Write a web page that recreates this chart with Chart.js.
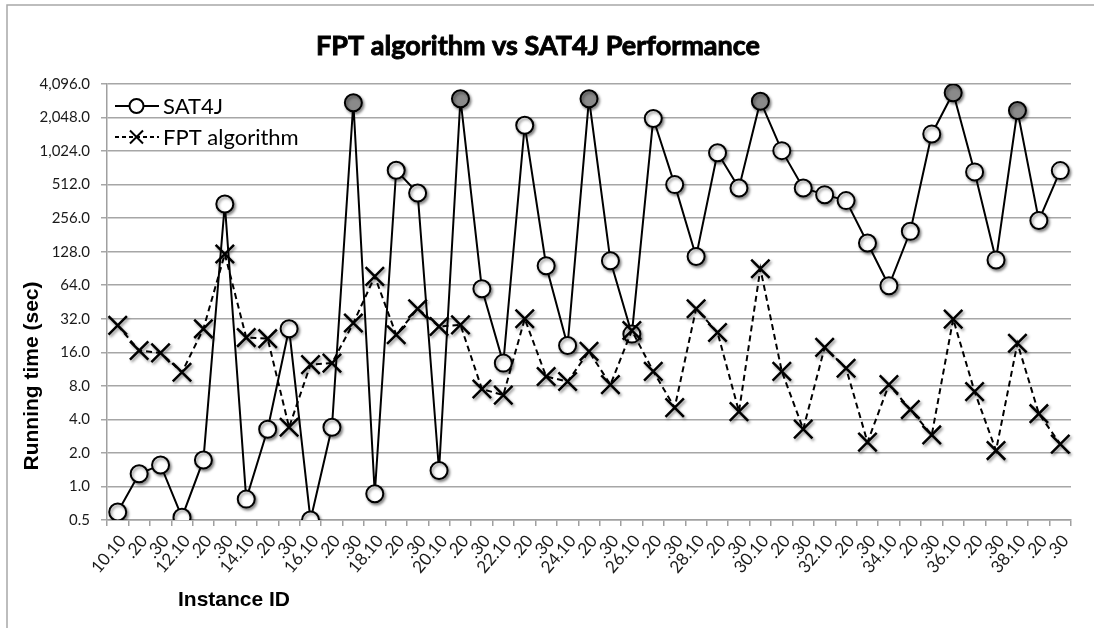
<!DOCTYPE html>
<html>
<head>
<meta charset="utf-8">
<script src="https://cdn.jsdelivr.net/npm/chart.js@4.4.0/dist/chart.umd.min.js"></script>
<style>
  html, body { margin: 0; padding: 0; background: #fff; }
  #wrap { width: 1094px; height: 628px; position: relative; }
</style>
</head>
<body>
<div id="wrap"><canvas id="chart" width="1094" height="628"></canvas></div>
<script>
const instanceIds = [
    "10.10", ".20", ".30", "12.10", ".20", ".30", "14.10", ".20", ".30",
    "16.10", ".20", ".30", "18.10", ".20", ".30", "20.10", ".20", ".30",
    "22.10", ".20", ".30", "24.10", ".20", ".30", "26.10", ".20", ".30",
    "28.10", ".20", ".30", "30.10", ".20", ".30", "32.10", ".20", ".30",
    "34.10", ".20", ".30", "36.10", ".20", ".30", "38.10", ".20", ".30"
]

const sat4jTimes = [
    0.59, 1.3, 1.56, 0.53, 1.73, 343, 0.77, 3.26, 26, 0.5, 3.4, 2780,
    0.86, 689, 431, 1.39, 3016, 59.5, 12.8, 1747, 95.7, 18.4, 3016, 106,
    23.3, 2005, 512, 116, 988, 478, 2870, 1033, 478, 416, 368, 153,
    63.3, 195, 1460, 3415, 666, 108, 2368, 244, 684
]

const fptTimes = [
    27.9, 16.6, 15.8, 10.6, 26, 122, 21.7, 21.2, 3.4, 12.4, 12.8, 29.3,
    76.8, 23, 39.4, 27.3, 28.2, 7.5, 6.6, 32, 9.7, 8.75, 16.3, 8.2,
    25.1, 10.8, 5.1, 39.4, 24.1, 4.7, 90, 10.8, 3.27, 17.7, 11.5, 2.5,
    8.2, 4.9, 2.9, 31.8, 7.1, 2.1, 19.3, 4.5, 2.4
]

// instances that hit the time limit (drawn grey)
const timedOut = [11, 16, 22, 30, 39, 42]

const yTicks = [0.5, 1, 2, 4, 8, 16, 32, 64, 128, 256, 512, 1024, 2048, 4096]

const tickFont = "Lato"
const satFill = sat4jTimes.map((v, i) => timedOut.includes(i) ? "#8a8a8a" : "#ffffff")

const markerShadow = {
    id: "markerShadow",
    beforeDatasetDraw(chart, args) {
        if (!chart.data.datasets[args.index].shadow) return
        const ctx = chart.ctx
        ctx.save()
        ctx.shadowColor = "rgba(0,0,0,0.45)"
        ctx.shadowBlur = 3
        ctx.shadowOffsetX = 1.5
        ctx.shadowOffsetY = 2
    },
    afterDatasetDraw(chart, args) {
        if (!chart.data.datasets[args.index].shadow) return
        chart.ctx.restore()
    }
}

const decorations = {
    id: "decorations",
    afterDraw(chart) {
        const ctx = chart.ctx
        ctx.save()

        // outer frame (cut off at right and bottom)
        ctx.strokeStyle = "#a8a8a8"
        ctx.lineWidth = 1.5
        ctx.beginPath()
        ctx.moveTo(7, 640)
        ctx.lineTo(7, 5)
        ctx.lineTo(1100, 5)
        ctx.stroke()

        // title (stroked a little to get closer to the heavy original)
        ctx.fillStyle = "#000"
        ctx.strokeStyle = "#000"
        ctx.lineWidth = 0.9
        ctx.textAlign = "center"
        ctx.textBaseline = "alphabetic"
        ctx.font = "bold 27px Lato"
        ctx.fillText("FPT algorithm vs SAT4J Performance", 538, 55)
        ctx.strokeText("FPT algorithm vs SAT4J Performance", 538, 55)

        // axis titles
        ctx.font = "bold 21px 'Liberation Sans'"
        ctx.fillText("Instance ID", 234, 606)
        ctx.save()
        ctx.translate(38, 376)
        ctx.rotate(-Math.PI / 2)
        ctx.fillText("Running time (sec)", 0, 0)
        ctx.restore()

        // legend
        ctx.strokeStyle = "#000"
        ctx.lineWidth = 2
        ctx.beginPath()
        ctx.moveTo(115, 106)
        ctx.lineTo(159, 106)
        ctx.stroke()
        ctx.fillStyle = "#fff"
        ctx.beginPath()
        ctx.arc(136.5, 106, 7, 0, Math.PI * 2)
        ctx.fill()
        ctx.stroke()

        ctx.setLineDash([4, 3])
        ctx.beginPath()
        ctx.moveTo(115, 137)
        ctx.lineTo(159, 137)
        ctx.stroke()
        ctx.setLineDash([])
        ctx.beginPath()
        ctx.moveTo(130, 130.5)
        ctx.lineTo(143, 143.5)
        ctx.moveTo(143, 130.5)
        ctx.lineTo(130, 143.5)
        ctx.stroke()

        ctx.fillStyle = "#000"
        ctx.textAlign = "left"
        ctx.textBaseline = "middle"
        ctx.font = "22px Lato"
        ctx.fillText("SAT4J", 163, 107)
        ctx.fillText("FPT algorithm", 163, 138)

        ctx.restore()
    }
}

new Chart(document.getElementById("chart"), {
    type: "line",
    data: {
        labels: instanceIds,
        datasets: [
            {
                label: "SAT4J",
                data: sat4jTimes,
                borderColor: "#000",
                borderWidth: 2,
                pointRadius: 0,
                tension: 0,
                order: 3
            },
            {
                label: "SAT4J markers",
                data: sat4jTimes,
                showLine: false,
                shadow: true,
                pointStyle: "circle",
                pointRadius: 8.5,
                pointBorderWidth: 2,
                pointBorderColor: "#000",
                pointBackgroundColor: satFill,
                order: 2
            },
            {
                label: "FPT algorithm",
                data: fptTimes,
                borderColor: "#000",
                borderWidth: 2,
                borderDash: [6, 4],
                pointRadius: 0,
                tension: 0,
                order: 1
            },
            {
                label: "FPT markers",
                data: fptTimes,
                showLine: false,
                shadow: true,
                pointStyle: "crossRot",
                pointRadius: 13,
                pointBorderWidth: 2.5,
                pointBorderColor: "#000",
                order: 0
            }
        ]
    },
    options: {
        responsive: false,
        animation: false,
        events: [],
        layout: { padding: { top: 84, right: 23, left: 0, bottom: 0 } },
        plugins: {
            legend: { display: false },
            title: { display: false },
            tooltip: { enabled: false }
        },
        scales: {
            x: {
                type: "category",
                offset: true,
                grid: {
                    offset: true,
                    drawOnChartArea: false,
                    drawTicks: true,
                    tickLength: 6,
                    color: "#a0a0a0",
                    lineWidth: 1.5
                },
                border: { color: "#a0a0a0", width: 1.5 },
                ticks: {
                    autoSkip: false,
                    minRotation: 50,
                    maxRotation: 50,
                    padding: 5,
                    labelOffset: 5,
                    color: "#1a1a1a",
                    font: { family: tickFont, size: 17 }
                },
                afterFit(scale) { scale.height = 108 }
            },
            y: {
                type: "logarithmic",
                min: 0.5,
                max: 4096,
                grid: {
                    color: "#a6a6a6",
                    lineWidth: 1.5,
                    tickLength: 6
                },
                border: { color: "#a0a0a0", width: 1.5 },
                ticks: {
                    padding: 11,
                    color: "#1a1a1a",
                    font: { family: tickFont, size: 15 },
                    callback: (v) => Number(v).toLocaleString("en-US", { minimumFractionDigits: 1, maximumFractionDigits: 1 })
                },
                afterBuildTicks(scale) {
                    scale.ticks = yTicks.map(v => ({ value: v }))
                },
                afterFit(scale) { scale.width = 107 }
            }
        }
    },
    plugins: [markerShadow, decorations]
})
</script>
</body>
</html>
